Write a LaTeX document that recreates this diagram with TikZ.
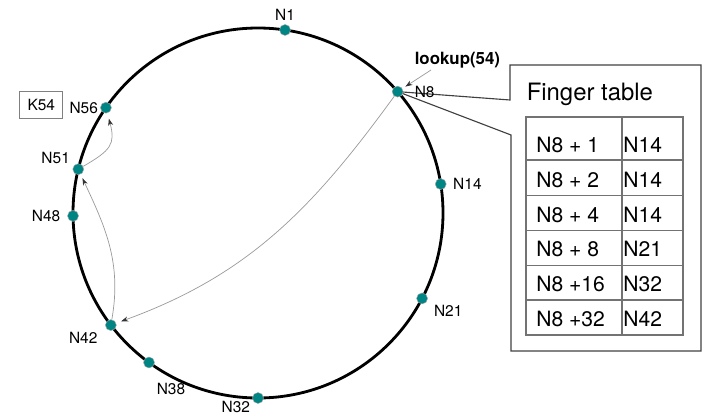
\documentclass[tikz,border=0pt]{standalone}
\usepackage{fontspec}
\setmainfont{TeX Gyre Heros}
\usetikzlibrary{arrows.meta,backgrounds}
\definecolor{chordteal}{RGB}{0,133,133}

\begin{document}
\begin{tikzpicture}
  [x=0.025cm,y=0.025cm,
  font=\fontsize{11}{13}\selectfont,
  peer/.style={shape=circle,fill=chordteal,draw=black!35,line width=0.3pt,minimum size=0.275cm,inner sep=0pt},
  ring/.style={line width=2pt},
  hop/.style={->,>={Stealth[length=5pt,width=3.5pt,inset=1.5pt,black!80]},draw=black!40,line width=0.5pt},
  callout/.style={draw=black!75,line width=0.8pt},
  grid/.style={draw=black!55,line width=0.9pt},
  cell/.style={anchor=base west,inner sep=0pt,font=\fontsize{15}{18}\selectfont}]

  \useasboundingbox (0,0) rectangle (707,416);

  % identifier ring
  \coordinate (c) at (258,203);
  \draw [ring] (c) circle (185);

  \begin{scope}[shift={(c)}]
    \node (n1)  [peer,label={[label distance=-0.9pt]above:N1}]  at (81.6:185) {};
    \node (n8)  [peer,label={[label distance=4.6pt]right:N8}]   at (41:185) {};
    \node (n14) [peer,label={[label distance=1.3pt]right:N14}]  at (9:185) {};
    \node (n21) [peer,label={[label distance=1pt]-12:N21}]      at (-27.5:185) {};
    \node (n32) [peer,label={[inner sep=1pt,label distance=0.6pt]198:N32}] at (-90:185) {};
    \node (n38) [peer,label={[label distance=7.5pt]-80:N38}]    at (233.9:185) {};
    \node (n42) [peer,label={[label distance=2.1pt]191.6:N42}]  at (217.3:185) {};
    \node (n48) [peer,label={[label distance=1.5pt]left:N48}]   at (180.9:185) {};
    \node (n51) [peer,label={[label distance=-1.6pt]175:N51}]   at (166.3:185) {};
    \node (n56) [peer,label={[label distance=-1.9pt]left:N56}]  at (145.3:185) {};
  \end{scope}

  % key stored at N56
  \node (k54) [draw=black!50,line width=0.6pt,inner sep=5.5pt] at (41.3,311.5) {K54};

  % the query and its hops
  \node (lookup) [anchor=base west,inner sep=0pt,font=\bfseries\fontsize{12}{14}\selectfont] at (414.5,351.7) {lookup(54)};
  \coordinate (query) at (431,346);
  \draw [hop,shorten >=2.5pt] (query) -- (n8);

  \draw [hop,shorten >=3.7pt] (n8) to [out=234,in=20] (n42);
  \draw [hop,shorten >=3pt] (n42) to [out=80,in=-65] (n51);
  \draw [hop,shorten >=4pt] (n51) to [out=30,in=-75,looseness=1.4] (n56);

  % finger table of N8
  \begin{pgfonlayer}{background}
    \draw [callout] (510,351) -- (701,351) -- (701,65) -- (511,65) -- (511,281)
      -- (n8.center) -- (510,316) -- cycle;
  \end{pgfonlayer}
  \node (ft) [anchor=base west,inner sep=0pt,font=\fontsize{17}{20}\selectfont] at (526.5,316) {Finger table};

  \draw [grid] (526,299) rectangle (683,81);
  \draw [grid] (622,299) -- (622,81);
  \foreach \y in {256,220.5,185.5,150.5,116}
    \draw [grid] (526,\y) -- (683,\y);

  \foreach \off/\hit [count=\i] in {+ 1/N14,+ 2/N14,+ 4/N14,+ 8/N21,+16/N32,+32/N42} {
    \node (f\i) [cell] at (536,{263.3-34.7*(\i-1)}) {N8 \off};
    \node (h\i) [cell] at (623,{263.3-34.7*(\i-1)}) {\hit};
  }

\end{tikzpicture}
\end{document}
